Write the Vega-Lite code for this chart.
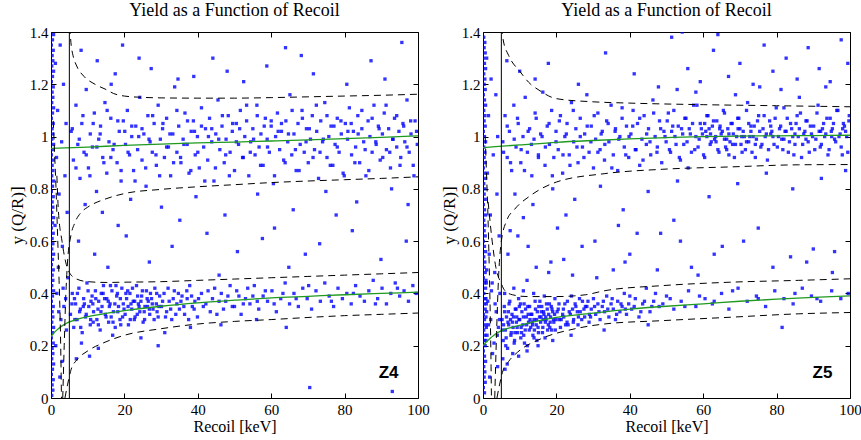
{
"$schema":"https://vega.github.io/schema/vega-lite/v6.json",
"padding":{"left":7,"top":1,"right":2,"bottom":2},
"background":"white",
"config":{"font":"'Liberation Serif', 'Times New Roman', serif","view":{"stroke":"black","strokeWidth":1}},
"spacing":9,
"datasets":{
"z4":[
{"x":0.2,"y":0.01},{"x":0.5,"y":0.03},{"x":0.3,"y":0.05},{"x":0.6,"y":0.07},{"x":0.1,"y":0.09},{"x":0.4,"y":0.11},{"x":0.7,"y":0.13},{"x":0.2,"y":0.15},{"x":0.5,"y":0.17},{"x":0.3,"y":0.19},{"x":0.6,"y":0.21},{"x":0.1,"y":0.23},{"x":0.4,"y":0.25},{"x":0.7,"y":0.27},{"x":0.2,"y":0.29},{"x":0.5,"y":0.31},{"x":0.3,"y":0.33},{"x":0.6,"y":0.35},{"x":0.1,"y":0.37},{"x":0.4,"y":0.39},{"x":0.7,"y":0.41},{"x":0.2,"y":0.43},{"x":0.5,"y":0.45},{"x":0.3,"y":0.47},{"x":0.6,"y":0.49},{"x":0.1,"y":0.51},{"x":0.4,"y":0.53},{"x":0.7,"y":0.55},{"x":0.2,"y":0.57},{"x":0.5,"y":0.59},{"x":0.3,"y":0.61},{"x":0.6,"y":0.63},{"x":0.1,"y":0.65},{"x":0.4,"y":0.67},{"x":0.7,"y":0.69},{"x":0.2,"y":0.71},{"x":0.5,"y":0.73},{"x":0.3,"y":0.75},{"x":0.6,"y":0.77},{"x":0.1,"y":0.79},{"x":0.4,"y":0.81},{"x":0.7,"y":0.83},{"x":0.2,"y":0.85},{"x":0.5,"y":0.87},{"x":0.3,"y":0.89},{"x":0.6,"y":0.91},{"x":0.1,"y":0.93},{"x":0.4,"y":0.95},{"x":0.7,"y":0.97},{"x":0.2,"y":0.99},{"x":0.5,"y":1.01},{"x":0.3,"y":1.03},{"x":0.6,"y":1.05},{"x":0.1,"y":1.07},{"x":0.4,"y":1.09},{"x":0.7,"y":1.11},{"x":0.2,"y":1.13},{"x":0.5,"y":1.15},{"x":0.3,"y":1.17},{"x":0.6,"y":1.19},{"x":0.1,"y":1.21},{"x":0.4,"y":1.23},{"x":0.7,"y":1.25},{"x":0.2,"y":1.27},{"x":0.5,"y":1.29},{"x":0.3,"y":1.31},{"x":0.6,"y":1.33},{"x":0.1,"y":1.35},{"x":0.4,"y":1.37},{"x":0.7,"y":1.39},
{"x":1.2,"y":1.28},{"x":2.5,"y":1.35},{"x":3.4,"y":1.2},{"x":1.8,"y":1.1},{"x":4.1,"y":1.05},{"x":2.9,"y":0.98},{"x":1.5,"y":0.92},{"x":3.8,"y":0.85},{"x":2.2,"y":0.78},{"x":4.4,"y":0.71},{"x":1.1,"y":0.66},{"x":3.1,"y":0.58},{"x":2.0,"y":0.5},{"x":4.6,"y":0.46},{"x":1.6,"y":0.4},{"x":3.5,"y":0.35},{"x":2.7,"y":0.3},{"x":4.2,"y":0.26},{"x":1.3,"y":0.2},{"x":3.0,"y":0.14},{"x":2.4,"y":0.08},{"x":4.0,"y":0.38},{"x":3.3,"y":0.42},{"x":2.1,"y":0.33},
{"x":5.5,"y":1.02},{"x":6.1,"y":0.91},{"x":6.8,"y":1.12},{"x":7.3,"y":0.97},{"x":7.9,"y":0.84},{"x":8.4,"y":1.05},{"x":9.0,"y":0.94},{"x":9.6,"y":1.18},{"x":10.2,"y":0.88},{"x":10.7,"y":1.01},{"x":11.3,"y":0.96},{"x":11.8,"y":1.09},{"x":12.4,"y":0.79},{"x":13.0,"y":0.99},{"x":13.5,"y":1.04},{"x":14.1,"y":0.92},{"x":14.7,"y":1.13},{"x":15.2,"y":0.86},{"x":15.8,"y":0.98},{"x":16.3,"y":1.07},{"x":16.9,"y":0.95},{"x":17.5,"y":1.24},{"x":18.0,"y":0.9},{"x":18.6,"y":1.02},{"x":19.1,"y":0.83},{"x":19.7,"y":1.06},{"x":20.3,"y":0.97},{"x":20.8,"y":1.1},{"x":21.4,"y":0.93},{"x":22.0,"y":1.0},{"x":22.5,"y":0.87},{"x":23.1,"y":1.04},{"x":23.6,"y":0.95},{"x":24.2,"y":1.15},{"x":24.8,"y":0.91},{"x":25.3,"y":1.01},{"x":25.9,"y":0.81},{"x":26.4,"y":1.08},{"x":27.0,"y":0.98},{"x":27.6,"y":0.94},{"x":28.1,"y":1.05},{"x":28.7,"y":0.89},{"x":29.2,"y":1.12},{"x":29.8,"y":0.99},{"x":30.4,"y":1.03},{"x":30.9,"y":0.92},{"x":31.5,"y":1.07},{"x":32.0,"y":0.96},{"x":32.6,"y":0.85},{"x":33.2,"y":1.01},{"x":33.7,"y":1.19},{"x":34.3,"y":0.94},{"x":34.8,"y":1.04},{"x":35.4,"y":0.9},{"x":36.0,"y":0.99},{"x":36.5,"y":1.09},{"x":37.1,"y":0.97},{"x":37.6,"y":0.86},{"x":38.2,"y":1.02},{"x":38.8,"y":1.06},{"x":39.3,"y":0.93},{"x":39.9,"y":1.0},{"x":40.4,"y":0.88},{"x":41.0,"y":1.11},{"x":41.6,"y":0.96},{"x":42.1,"y":1.03},{"x":42.7,"y":0.91},{"x":43.2,"y":1.07},{"x":43.8,"y":0.98},{"x":44.4,"y":0.83},{"x":44.9,"y":1.01},{"x":45.5,"y":1.14},{"x":46.0,"y":0.95},{"x":46.6,"y":1.04},{"x":47.2,"y":0.9},{"x":47.7,"y":0.99},{"x":48.3,"y":1.08},{"x":48.8,"y":0.94},{"x":49.4,"y":1.02},{"x":50.0,"y":0.87},{"x":50.5,"y":1.05},{"x":51.1,"y":0.97},{"x":51.6,"y":1.1},{"x":52.2,"y":0.92},{"x":52.8,"y":1.0},{"x":53.3,"y":1.06},{"x":53.9,"y":0.85},{"x":54.4,"y":0.98},{"x":55.0,"y":1.03},{"x":55.6,"y":0.93},{"x":56.1,"y":1.12},{"x":56.7,"y":0.96},{"x":57.2,"y":1.01},{"x":57.8,"y":0.89},{"x":58.4,"y":1.07},{"x":58.9,"y":0.99},{"x":59.5,"y":0.94},{"x":60.0,"y":1.04},{"x":60.6,"y":0.82},{"x":61.2,"y":1.0},{"x":61.7,"y":1.09},{"x":62.3,"y":0.95},{"x":62.8,"y":1.02},{"x":63.4,"y":0.91},{"x":64.0,"y":1.06},{"x":64.5,"y":0.98},{"x":65.1,"y":1.16},{"x":65.6,"y":0.93},{"x":66.2,"y":1.01},{"x":66.8,"y":0.87},{"x":67.3,"y":1.05},{"x":67.9,"y":0.97},{"x":68.4,"y":1.1},{"x":69.0,"y":0.94},{"x":69.6,"y":1.03},{"x":70.1,"y":0.9},{"x":70.7,"y":0.99},{"x":71.2,"y":1.08},{"x":71.8,"y":0.95},{"x":72.4,"y":1.02},{"x":72.9,"y":0.84},{"x":73.5,"y":1.06},{"x":74.0,"y":0.98},{"x":74.6,"y":1.13},{"x":75.2,"y":0.92},{"x":75.7,"y":1.0},{"x":76.3,"y":1.04},{"x":76.8,"y":0.89},{"x":77.4,"y":0.97},{"x":78.0,"y":1.07},{"x":78.5,"y":0.94},{"x":79.1,"y":1.01},{"x":79.6,"y":0.86},{"x":80.2,"y":1.05},{"x":80.8,"y":0.99},{"x":81.3,"y":1.11},{"x":81.9,"y":0.93},{"x":82.4,"y":1.02},{"x":83.0,"y":0.96},{"x":83.6,"y":1.08},{"x":84.1,"y":0.9},{"x":84.7,"y":1.03},{"x":85.2,"y":0.98},{"x":85.8,"y":0.85},{"x":86.4,"y":1.06},{"x":86.9,"y":1.0},{"x":87.5,"y":0.94},{"x":88.0,"y":1.12},{"x":88.6,"y":0.97},{"x":89.2,"y":1.04},{"x":89.7,"y":0.91},{"x":90.3,"y":1.01},{"x":90.8,"y":1.09},{"x":91.4,"y":0.95},{"x":92.0,"y":1.03},{"x":92.5,"y":0.88},{"x":93.1,"y":0.99},{"x":93.6,"y":1.07},{"x":94.2,"y":0.96},{"x":94.8,"y":1.02},{"x":95.3,"y":0.92},{"x":95.9,"y":1.05},{"x":96.4,"y":0.98},{"x":97.0,"y":1.14},{"x":97.6,"y":0.94},{"x":98.1,"y":1.01},{"x":98.7,"y":0.89},{"x":99.2,"y":1.06},{"x":99.8,"y":0.97},
{"x":5.8,"y":1.03},{"x":6.8,"y":0.88},{"x":7.7,"y":0.99},{"x":8.7,"y":1.08},{"x":9.6,"y":0.93},{"x":10.6,"y":0.85},{"x":11.5,"y":1.05},{"x":12.5,"y":0.96},{"x":13.4,"y":1.01},{"x":14.4,"y":0.9},{"x":15.3,"y":1.1},{"x":16.3,"y":0.92},{"x":17.2,"y":0.97},{"x":18.2,"y":1.06},{"x":19.1,"y":0.87},{"x":20.1,"y":1.02},{"x":21.0,"y":0.94},{"x":22.0,"y":1.04},{"x":22.9,"y":0.83},{"x":23.9,"y":1.0},{"x":24.8,"y":1.03},{"x":25.8,"y":0.88},{"x":26.7,"y":0.99},{"x":27.7,"y":1.08},{"x":28.6,"y":0.93},{"x":29.6,"y":0.85},{"x":30.5,"y":1.05},{"x":31.5,"y":0.96},{"x":32.4,"y":1.01},{"x":33.4,"y":0.9},{"x":34.3,"y":1.1},{"x":35.3,"y":0.92},{"x":36.2,"y":0.97},{"x":37.2,"y":1.06},{"x":38.1,"y":0.87},{"x":39.1,"y":1.02},{"x":40.0,"y":0.94},{"x":41.0,"y":1.04},{"x":41.9,"y":0.83},{"x":42.9,"y":1.0},{"x":43.8,"y":1.03},{"x":44.8,"y":0.88},{"x":45.7,"y":0.99},{"x":46.7,"y":1.08},{"x":47.6,"y":0.93},{"x":48.6,"y":0.85},{"x":49.5,"y":1.05},{"x":50.5,"y":0.98},{"x":51.4,"y":1.03},{"x":52.4,"y":0.92},{"x":53.3,"y":1.12},{"x":54.3,"y":0.94},{"x":55.2,"y":0.99},{"x":56.2,"y":1.08},{"x":57.1,"y":0.89},{"x":58.1,"y":1.04},{"x":59.0,"y":0.96},{"x":60.0,"y":1.06},{"x":60.9,"y":0.85},{"x":61.9,"y":1.02},{"x":62.8,"y":1.05},{"x":63.8,"y":0.9},{"x":64.7,"y":1.01},{"x":65.7,"y":1.1},{"x":66.6,"y":0.95},{"x":67.6,"y":0.87},{"x":68.5,"y":1.07},{"x":69.5,"y":0.98},{"x":70.4,"y":1.03},{"x":71.4,"y":0.92},{"x":72.3,"y":1.12},{"x":73.3,"y":0.94},{"x":74.2,"y":0.99},{"x":75.2,"y":1.08},{"x":76.1,"y":0.89},{"x":77.1,"y":1.04},{"x":78.0,"y":0.96},{"x":79.0,"y":1.06},{"x":79.9,"y":0.85},{"x":80.9,"y":1.02},{"x":81.8,"y":1.05},{"x":82.8,"y":0.9},{"x":83.7,"y":1.01},{"x":84.7,"y":1.1},{"x":85.6,"y":0.95},{"x":86.6,"y":0.87},{"x":87.5,"y":1.07},{"x":88.5,"y":0.98},{"x":89.4,"y":1.03},{"x":90.4,"y":0.92},{"x":91.3,"y":1.12},{"x":92.3,"y":0.94},{"x":93.2,"y":0.99},{"x":94.2,"y":1.08},{"x":95.1,"y":0.89},{"x":96.1,"y":1.04},{"x":97.0,"y":0.96},{"x":98.0,"y":1.06},{"x":98.9,"y":0.85},{"x":99.6,"y":1.02},
{"x":8.2,"y":1.33},{"x":12.6,"y":1.29},{"x":19.5,"y":1.35},{"x":27.3,"y":1.26},{"x":34.6,"y":1.22},{"x":44.1,"y":1.3},{"x":52.5,"y":1.21},{"x":58.8,"y":1.27},{"x":63.9,"y":1.34},{"x":71.5,"y":1.24},{"x":80.6,"y":1.2},{"x":87.2,"y":1.29},{"x":95.6,"y":1.36},{"x":16.4,"y":1.2},{"x":38.9,"y":1.23},{"x":68.2,"y":1.31},{"x":24.0,"y":1.3},{"x":48.0,"y":1.25},{"x":91.0,"y":1.22},
{"x":9.3,"y":0.74},{"x":14.0,"y":0.71},{"x":21.7,"y":0.76},{"x":30.1,"y":0.73},{"x":39.5,"y":0.77},{"x":47.4,"y":0.7},{"x":56.3,"y":0.78},{"x":66.0,"y":0.72},{"x":74.9,"y":0.79},{"x":83.3,"y":0.75},{"x":92.8,"y":0.8},{"x":18.3,"y":0.66},{"x":35.1,"y":0.68},{"x":60.9,"y":0.65},{"x":77.7,"y":0.7},{"x":97.3,"y":0.74},
{"x":7.5,"y":0.6},{"x":11.9,"y":0.55},{"x":20.5,"y":0.62},{"x":26.8,"y":0.52},{"x":33.0,"y":0.58},{"x":42.5,"y":0.63},{"x":50.8,"y":0.56},{"x":57.6,"y":0.61},{"x":64.8,"y":0.5},{"x":73.2,"y":0.59},{"x":82.1,"y":0.64},{"x":89.9,"y":0.53},{"x":96.8,"y":0.6},{"x":45.8,"y":0.47},{"x":69.3,"y":0.55},{"x":15.5,"y":0.5},
{"x":5.3,"y":0.32},{"x":5.8,"y":0.4},{"x":6.2,"y":0.27},{"x":6.7,"y":0.36},{"x":7.1,"y":0.3},{"x":7.6,"y":0.42},{"x":8.0,"y":0.34},{"x":8.5,"y":0.25},{"x":8.9,"y":0.38},{"x":9.4,"y":0.31},{"x":9.8,"y":0.44},{"x":10.3,"y":0.35},{"x":10.7,"y":0.28},{"x":11.2,"y":0.39},{"x":11.6,"y":0.33},{"x":12.1,"y":0.41},{"x":12.5,"y":0.3},{"x":13.0,"y":0.37},{"x":13.4,"y":0.26},{"x":13.9,"y":0.35},{"x":14.3,"y":0.43},{"x":14.8,"y":0.32},{"x":15.2,"y":0.38},{"x":15.7,"y":0.29},{"x":16.1,"y":0.36},{"x":16.6,"y":0.41},{"x":17.0,"y":0.33},{"x":17.5,"y":0.27},{"x":17.9,"y":0.39},{"x":18.4,"y":0.35},{"x":18.8,"y":0.3},{"x":19.3,"y":0.42},{"x":19.7,"y":0.36},{"x":20.2,"y":0.32},{"x":20.6,"y":0.38},{"x":21.1,"y":0.28},{"x":21.5,"y":0.4},{"x":22.0,"y":0.34},{"x":22.4,"y":0.37},{"x":22.9,"y":0.31},{"x":23.3,"y":0.43},{"x":23.8,"y":0.36},{"x":24.2,"y":0.33},{"x":24.7,"y":0.39},{"x":25.1,"y":0.29},{"x":25.6,"y":0.35},{"x":26.0,"y":0.41},{"x":26.5,"y":0.37},{"x":26.9,"y":0.32},{"x":27.4,"y":0.38},{"x":27.8,"y":0.34},{"x":28.3,"y":0.42},{"x":28.7,"y":0.36},{"x":29.2,"y":0.31},{"x":29.6,"y":0.39},{"x":30.1,"y":0.35},{"x":30.8,"y":0.4},{"x":31.5,"y":0.33},{"x":32.2,"y":0.37},{"x":32.9,"y":0.3},{"x":33.6,"y":0.41},{"x":34.3,"y":0.36},{"x":35.0,"y":0.34},{"x":35.7,"y":0.39},{"x":36.4,"y":0.32},{"x":37.1,"y":0.38},{"x":37.8,"y":0.43},{"x":38.5,"y":0.35},{"x":39.2,"y":0.37},{"x":39.9,"y":0.31},{"x":41.0,"y":0.4},{"x":42.2,"y":0.36},{"x":43.4,"y":0.33},{"x":44.6,"y":0.42},{"x":45.8,"y":0.37},{"x":47.0,"y":0.34},{"x":48.2,"y":0.39},{"x":49.4,"y":0.35},{"x":50.6,"y":0.41},{"x":51.8,"y":0.32},{"x":53.0,"y":0.38},{"x":54.2,"y":0.36},{"x":55.4,"y":0.43},{"x":56.6,"y":0.34},{"x":57.8,"y":0.39},{"x":59.0,"y":0.37},{"x":60.2,"y":0.41},{"x":61.4,"y":0.33},{"x":62.6,"y":0.38},{"x":63.8,"y":0.44},{"x":65.0,"y":0.36},{"x":66.2,"y":0.4},{"x":67.4,"y":0.35},{"x":68.6,"y":0.42},{"x":69.8,"y":0.38},{"x":71.0,"y":0.34},{"x":72.2,"y":0.41},{"x":73.4,"y":0.37},{"x":74.6,"y":0.44},{"x":75.8,"y":0.39},{"x":77.0,"y":0.35},{"x":78.2,"y":0.42},{"x":79.4,"y":0.38},{"x":80.6,"y":0.4},{"x":81.8,"y":0.36},{"x":83.0,"y":0.43},{"x":84.2,"y":0.39},{"x":85.4,"y":0.37},{"x":86.6,"y":0.41},{"x":87.8,"y":0.45},{"x":89.0,"y":0.38},{"x":90.2,"y":0.42},{"x":91.4,"y":0.36},{"x":92.6,"y":0.4},{"x":93.8,"y":0.44},{"x":95.0,"y":0.39},{"x":96.2,"y":0.41},{"x":97.4,"y":0.37},{"x":98.6,"y":0.43},{"x":99.5,"y":0.4},
{"x":10.9,"y":0.37},{"x":12.8,"y":0.34},{"x":14.6,"y":0.38},{"x":16.4,"y":0.31},{"x":18.1,"y":0.4},{"x":19.9,"y":0.34},{"x":21.8,"y":0.36},{"x":23.6,"y":0.39},{"x":25.4,"y":0.33},{"x":27.1,"y":0.4},{"x":28.9,"y":0.33},{"x":11.5,"y":0.29},{"x":13.7,"y":0.4},{"x":15.9,"y":0.35},{"x":17.7,"y":0.43},{"x":19.0,"y":0.28},{"x":20.9,"y":0.41},{"x":22.7,"y":0.3},{"x":24.5,"y":0.37},{"x":26.3,"y":0.35},{"x":9.1,"y":0.36},{"x":7.8,"y":0.33},{"x":6.4,"y":0.38},
{"x":5.7,"y":0.36},{"x":6.5,"y":0.3},{"x":7.2,"y":0.4},{"x":8.1,"y":0.27},{"x":8.8,"y":0.35},{"x":9.6,"y":0.32},{"x":10.1,"y":0.41},{"x":10.8,"y":0.3},{"x":11.4,"y":0.36},{"x":12.2,"y":0.38},{"x":12.9,"y":0.28},{"x":13.6,"y":0.33},{"x":14.2,"y":0.4},{"x":15.0,"y":0.31},{"x":15.6,"y":0.37},{"x":16.2,"y":0.43},{"x":16.9,"y":0.29},{"x":17.4,"y":0.36},{"x":18.2,"y":0.33},{"x":18.9,"y":0.38},{"x":19.5,"y":0.31},{"x":20.4,"y":0.4},{"x":21.0,"y":0.35},{"x":21.6,"y":0.3},{"x":22.2,"y":0.42},{"x":22.8,"y":0.37},{"x":23.5,"y":0.32},{"x":24.0,"y":0.35},{"x":24.9,"y":0.41},{"x":25.5,"y":0.3},{"x":26.2,"y":0.38},{"x":26.8,"y":0.34},{"x":27.6,"y":0.36},{"x":28.1,"y":0.3},{"x":28.8,"y":0.4},{"x":29.4,"y":0.35},{"x":30.4,"y":0.37},{"x":31.2,"y":0.31},{"x":31.9,"y":0.42},{"x":32.6,"y":0.34},{"x":33.3,"y":0.38},{"x":34.0,"y":0.32},{"x":34.7,"y":0.4},{"x":35.4,"y":0.37},{"x":36.2,"y":0.35},{"x":37.0,"y":0.41},{"x":37.5,"y":0.3},{"x":38.3,"y":0.39},{"x":39.0,"y":0.34},{"x":40.2,"y":0.38},{"x":41.5,"y":0.35},{"x":42.8,"y":0.41},{"x":44.0,"y":0.38},{"x":45.2,"y":0.32},{"x":46.4,"y":0.4},{"x":47.6,"y":0.37},{"x":48.8,"y":0.43},{"x":50.0,"y":0.35},{"x":51.2,"y":0.39},{"x":52.4,"y":0.36},{"x":53.6,"y":0.42},{"x":55.0,"y":0.39},{"x":56.2,"y":0.37},{"x":58.4,"y":0.41},{"x":60.8,"y":0.36},{"x":63.2,"y":0.4},{"x":66.8,"y":0.38},{"x":70.2,"y":0.43},{"x":76.4,"y":0.37},{"x":82.4,"y":0.4},{"x":88.4,"y":0.36},{"x":94.4,"y":0.42},
{"x":8.3,"y":0.21},{"x":12.9,"y":0.19},{"x":16.8,"y":0.24},{"x":24.5,"y":0.23},{"x":31.0,"y":0.25},{"x":38.0,"y":0.27},{"x":46.3,"y":0.28},{"x":70.5,"y":0.04},{"x":93.0,"y":0.025},{"x":64.1,"y":0.27},{"x":6.9,"y":0.15},{"x":10.5,"y":0.16},{"x":56.0,"y":0.3},{"x":29.2,"y":0.2}
],
"z5":[
{"x":0.4,"y":0.02},{"x":0.1,"y":0.04},{"x":0.6,"y":0.06},{"x":0.3,"y":0.08},{"x":0.5,"y":0.1},{"x":0.2,"y":0.12},{"x":0.7,"y":0.14},{"x":0.4,"y":0.16},{"x":0.1,"y":0.18},{"x":0.6,"y":0.2},{"x":0.3,"y":0.22},{"x":0.5,"y":0.24},{"x":0.2,"y":0.26},{"x":0.7,"y":0.28},{"x":0.4,"y":0.3},{"x":0.1,"y":0.32},{"x":0.6,"y":0.34},{"x":0.3,"y":0.36},{"x":0.5,"y":0.38},{"x":0.2,"y":0.4},{"x":0.7,"y":0.42},{"x":0.4,"y":0.44},{"x":0.1,"y":0.46},{"x":0.6,"y":0.48},{"x":0.3,"y":0.5},{"x":0.5,"y":0.52},{"x":0.2,"y":0.54},{"x":0.7,"y":0.56},{"x":0.4,"y":0.58},{"x":0.1,"y":0.6},{"x":0.6,"y":0.62},{"x":0.3,"y":0.64},{"x":0.5,"y":0.66},{"x":0.2,"y":0.68},{"x":0.7,"y":0.7},{"x":0.4,"y":0.72},{"x":0.1,"y":0.74},{"x":0.6,"y":0.76},{"x":0.3,"y":0.78},{"x":0.5,"y":0.8},{"x":0.2,"y":0.82},{"x":0.7,"y":0.84},{"x":0.4,"y":0.86},{"x":0.1,"y":0.88},{"x":0.6,"y":0.9},{"x":0.3,"y":0.92},{"x":0.5,"y":0.94},{"x":0.2,"y":0.96},{"x":0.7,"y":0.98},{"x":0.4,"y":1.0},{"x":0.1,"y":1.02},{"x":0.6,"y":1.04},{"x":0.3,"y":1.06},{"x":0.5,"y":1.08},{"x":0.2,"y":1.1},{"x":0.7,"y":1.12},{"x":0.4,"y":1.14},{"x":0.1,"y":1.16},{"x":0.6,"y":1.18},{"x":0.3,"y":1.2},{"x":0.5,"y":1.22},{"x":0.2,"y":1.24},{"x":0.7,"y":1.26},{"x":0.4,"y":1.28},{"x":0.1,"y":1.3},{"x":0.6,"y":1.32},{"x":0.3,"y":1.34},{"x":0.5,"y":1.36},{"x":0.2,"y":1.38},
{"x":0.8,"y":0.22},{"x":0.9,"y":0.27},{"x":1.0,"y":0.33},{"x":0.8,"y":0.38},{"x":0.9,"y":0.44},{"x":1.0,"y":0.49},{"x":0.8,"y":0.31},{"x":0.9,"y":0.36},
{"x":1.0,"y":1.3},{"x":2.2,"y":1.22},{"x":3.5,"y":1.16},{"x":1.5,"y":1.08},{"x":4.0,"y":1.0},{"x":2.8,"y":0.93},{"x":1.2,"y":0.86},{"x":3.8,"y":0.78},{"x":2.0,"y":0.7},{"x":4.4,"y":0.62},{"x":1.7,"y":0.55},{"x":3.2,"y":0.48},{"x":2.5,"y":0.44},{"x":4.6,"y":0.4},{"x":1.3,"y":0.37},{"x":3.6,"y":0.33},{"x":2.1,"y":0.3},{"x":4.2,"y":0.27},{"x":1.1,"y":0.24},{"x":3.0,"y":0.21},{"x":2.6,"y":0.17},{"x":4.0,"y":0.12},{"x":1.8,"y":0.08},{"x":3.3,"y":0.36},{"x":2.3,"y":0.41},{"x":4.5,"y":0.3},{"x":1.5,"y":0.28},{"x":3.9,"y":0.24},{"x":0.8,"y":0.45},
{"x":5.4,"y":0.98},{"x":6.0,"y":1.08},{"x":6.6,"y":0.92},{"x":7.2,"y":1.02},{"x":7.8,"y":0.87},{"x":8.4,"y":1.12},{"x":9.0,"y":0.96},{"x":9.6,"y":1.05},{"x":10.3,"y":0.9},{"x":10.9,"y":1.0},{"x":11.5,"y":1.15},{"x":12.1,"y":0.94},{"x":12.7,"y":1.03},{"x":13.3,"y":0.85},{"x":13.9,"y":0.99},{"x":14.5,"y":1.07},{"x":15.1,"y":0.93},{"x":15.7,"y":1.01},{"x":16.3,"y":1.17},{"x":16.9,"y":0.89},{"x":17.5,"y":1.04},{"x":18.1,"y":0.97},{"x":18.7,"y":1.1},{"x":19.3,"y":0.92},{"x":19.9,"y":1.02},{"x":20.5,"y":0.95},{"x":21.1,"y":1.08},{"x":21.7,"y":0.86},{"x":22.3,"y":1.0},{"x":22.9,"y":1.05},{"x":23.5,"y":0.93},{"x":24.1,"y":1.13},{"x":24.7,"y":0.98},{"x":25.3,"y":1.03},{"x":25.9,"y":0.9},{"x":26.5,"y":1.07},{"x":27.1,"y":0.96},{"x":27.7,"y":1.01},{"x":28.3,"y":1.16},{"x":28.9,"y":0.94},{"x":29.5,"y":1.04},{"x":30.1,"y":0.88},{"x":30.7,"y":0.99},{"x":31.3,"y":1.09},{"x":31.9,"y":0.95},{"x":32.5,"y":1.02},{"x":33.1,"y":0.91},{"x":33.7,"y":1.06},{"x":34.3,"y":0.98},{"x":34.9,"y":1.12},{"x":35.5,"y":0.93},{"x":36.1,"y":1.03},{"x":36.7,"y":0.87},{"x":37.3,"y":1.0},{"x":37.9,"y":1.07},{"x":38.5,"y":0.96},{"x":39.1,"y":1.04},{"x":39.7,"y":0.92},{"x":40.3,"y":1.01},{"x":40.9,"y":1.1},{"x":41.5,"y":0.95},{"x":42.1,"y":1.05},{"x":42.7,"y":0.89},{"x":43.3,"y":0.99},{"x":43.9,"y":1.08},{"x":44.5,"y":0.97},{"x":45.1,"y":1.03},{"x":45.7,"y":0.93},{"x":46.3,"y":1.14},{"x":46.9,"y":1.0},{"x":47.5,"y":0.96},{"x":48.1,"y":1.06},{"x":48.7,"y":0.9},{"x":49.3,"y":1.02},{"x":49.9,"y":0.98},{"x":50.5,"y":1.09},{"x":51.1,"y":0.94},{"x":51.7,"y":1.04},{"x":52.3,"y":1.0},{"x":52.9,"y":1.18},{"x":53.5,"y":0.92},{"x":54.1,"y":1.03},{"x":54.7,"y":0.97},{"x":55.3,"y":1.07},{"x":55.9,"y":0.88},{"x":56.5,"y":1.01},{"x":57.1,"y":1.05},{"x":57.7,"y":0.95},{"x":58.3,"y":1.12},{"x":58.9,"y":0.99},{"x":59.5,"y":1.03},{"x":60.1,"y":0.93},{"x":60.7,"y":1.02},{"x":61.3,"y":1.08},{"x":61.9,"y":0.97},{"x":62.5,"y":1.04},{"x":63.1,"y":0.99},{"x":63.7,"y":1.06},{"x":64.3,"y":0.94},{"x":64.9,"y":1.01},{"x":65.5,"y":1.1},{"x":66.1,"y":0.96},{"x":66.7,"y":1.03},{"x":67.3,"y":0.98},{"x":67.9,"y":1.05},{"x":68.5,"y":0.92},{"x":69.1,"y":1.0},{"x":69.7,"y":1.07},{"x":70.3,"y":0.97},{"x":70.9,"y":1.02},{"x":71.5,"y":0.95},{"x":72.1,"y":1.13},{"x":72.7,"y":1.0},{"x":73.3,"y":0.94},{"x":73.9,"y":1.04},{"x":74.5,"y":0.99},{"x":75.1,"y":1.08},{"x":75.7,"y":0.96},{"x":76.3,"y":1.03},{"x":76.9,"y":1.0},{"x":77.5,"y":0.91},{"x":78.1,"y":1.06},{"x":78.7,"y":1.02},{"x":79.3,"y":0.97},{"x":79.9,"y":1.11},{"x":80.5,"y":1.0},{"x":81.1,"y":1.04},{"x":81.7,"y":0.95},{"x":82.3,"y":1.02},{"x":82.9,"y":1.07},{"x":83.5,"y":0.98},{"x":84.1,"y":1.03},{"x":84.7,"y":0.93},{"x":85.3,"y":1.05},{"x":85.9,"y":1.0},{"x":86.5,"y":1.09},{"x":87.1,"y":0.97},{"x":87.7,"y":1.02},{"x":88.3,"y":1.06},{"x":88.9,"y":0.94},{"x":89.5,"y":1.01},{"x":90.1,"y":1.04},{"x":90.7,"y":0.99},{"x":91.3,"y":1.12},{"x":91.9,"y":0.96},{"x":92.5,"y":1.03},{"x":93.1,"y":1.0},{"x":93.7,"y":1.07},{"x":94.3,"y":0.95},{"x":94.9,"y":1.02},{"x":95.5,"y":1.05},{"x":96.1,"y":0.98},{"x":96.7,"y":1.1},{"x":97.3,"y":1.01},{"x":97.9,"y":0.93},{"x":98.5,"y":1.04},{"x":99.1,"y":1.0},{"x":99.7,"y":1.06},
{"x":5.6,"y":0.94},{"x":6.6,"y":1.04},{"x":7.5,"y":0.9},{"x":8.5,"y":0.99},{"x":9.4,"y":1.07},{"x":10.4,"y":0.95},{"x":11.3,"y":0.87},{"x":12.3,"y":1.02},{"x":13.2,"y":0.97},{"x":14.2,"y":1.09},{"x":15.1,"y":0.92},{"x":16.1,"y":1.0},{"x":17.0,"y":0.96},{"x":18.0,"y":1.05},{"x":18.9,"y":0.85},{"x":19.9,"y":0.98},{"x":20.8,"y":1.06},{"x":21.8,"y":0.93},{"x":22.7,"y":1.01},{"x":23.7,"y":0.89},{"x":24.6,"y":1.1},{"x":25.6,"y":0.96},{"x":26.5,"y":1.0},{"x":27.5,"y":0.92},{"x":28.4,"y":1.04},{"x":29.4,"y":0.98},{"x":30.3,"y":1.08},{"x":31.3,"y":0.94},{"x":32.2,"y":1.01},{"x":33.2,"y":0.97},{"x":34.1,"y":1.05},{"x":35.1,"y":0.88},{"x":36.0,"y":1.02},{"x":37.0,"y":0.99},{"x":37.9,"y":1.11},{"x":38.9,"y":0.93},{"x":39.8,"y":1.0},{"x":40.8,"y":1.04},{"x":41.7,"y":0.95},{"x":42.7,"y":1.07},{"x":43.6,"y":0.91},{"x":44.6,"y":1.01},{"x":45.5,"y":0.98},{"x":46.5,"y":1.09},{"x":47.4,"y":0.94},{"x":48.4,"y":1.03},
{"x":49.6,"y":1.0},{"x":50.2,"y":1.06},{"x":50.8,"y":0.95},{"x":51.4,"y":1.02},{"x":52.0,"y":1.1},{"x":52.6,"y":0.97},{"x":53.2,"y":1.04},{"x":53.8,"y":0.91},{"x":54.4,"y":1.01},{"x":55.0,"y":1.07},{"x":55.6,"y":0.98},{"x":56.2,"y":1.03},{"x":56.8,"y":0.94},{"x":57.4,"y":1.12},{"x":58.0,"y":1.0},{"x":58.6,"y":0.96},{"x":59.2,"y":1.05},{"x":59.8,"y":1.01},{"x":60.4,"y":0.92},{"x":61.0,"y":1.08},{"x":61.6,"y":1.03},{"x":62.2,"y":0.98},{"x":62.8,"y":1.06},{"x":63.4,"y":1.0},{"x":64.0,"y":0.95},{"x":64.6,"y":1.04},{"x":65.2,"y":1.02},{"x":65.8,"y":1.09},{"x":66.4,"y":0.99},{"x":67.0,"y":0.93},{"x":67.6,"y":1.05},{"x":68.2,"y":1.01},{"x":68.8,"y":0.97},{"x":69.4,"y":1.07},{"x":70.0,"y":1.03},{"x":70.6,"y":0.94},{"x":71.2,"y":1.0},{"x":71.8,"y":1.1},{"x":72.4,"y":0.98},{"x":73.0,"y":1.04},{"x":73.6,"y":1.0},{"x":74.2,"y":0.92},{"x":74.8,"y":1.06},{"x":75.4,"y":1.02},{"x":76.0,"y":0.97},{"x":76.6,"y":1.08},{"x":77.2,"y":1.01},{"x":77.8,"y":0.95},{"x":78.4,"y":1.04},{"x":79.0,"y":1.0},{"x":79.6,"y":1.07},{"x":80.2,"y":0.96},{"x":80.8,"y":1.03},{"x":81.4,"y":0.99},{"x":82.0,"y":1.11},{"x":82.6,"y":1.02},{"x":83.2,"y":0.94},{"x":83.8,"y":1.05},{"x":84.4,"y":1.0},{"x":85.0,"y":0.97},{"x":85.6,"y":1.08},{"x":86.2,"y":1.03},{"x":86.8,"y":0.92},{"x":87.4,"y":1.01},{"x":88.0,"y":1.06},{"x":88.6,"y":0.98},{"x":89.2,"y":1.04},{"x":89.8,"y":1.0},{"x":90.4,"y":0.95},{"x":91.0,"y":1.09},{"x":91.6,"y":1.02},{"x":92.2,"y":0.97},{"x":92.8,"y":1.05},{"x":93.4,"y":1.01},{"x":94.0,"y":0.93},{"x":94.6,"y":1.07},{"x":95.2,"y":1.03},{"x":95.8,"y":0.99},{"x":96.4,"y":1.1},{"x":97.0,"y":1.0},{"x":97.6,"y":0.96},{"x":98.2,"y":1.05},{"x":98.8,"y":1.02},{"x":99.4,"y":0.94},{"x":99.8,"y":1.08},
{"x":61.0,"y":1.0},{"x":62.0,"y":1.01},{"x":63.5,"y":0.98},{"x":64.5,"y":1.03},{"x":65.8,"y":0.99},{"x":67.0,"y":1.01},{"x":68.0,"y":0.97},{"x":69.5,"y":1.03},{"x":70.5,"y":1.0},{"x":71.8,"y":0.98},{"x":73.0,"y":1.02},{"x":74.2,"y":0.97},{"x":60.4,"y":1.05},{"x":66.4,"y":0.95},{"x":72.4,"y":1.05},{"x":85.0,"y":1.01},{"x":88.0,"y":0.99},{"x":92.0,"y":1.02},{"x":95.0,"y":1.0},{"x":98.0,"y":1.03},{"x":82.0,"y":0.99},{"x":78.4,"y":1.01},
{"x":6.5,"y":1.29},{"x":10.0,"y":1.25},{"x":14.2,"y":1.22},{"x":17.8,"y":1.28},{"x":26.0,"y":1.2},{"x":33.4,"y":1.32},{"x":41.2,"y":1.24},{"x":47.8,"y":1.19},{"x":51.4,"y":1.38},{"x":55.8,"y":1.26},{"x":59.2,"y":1.21},{"x":62.8,"y":1.33},{"x":66.9,"y":1.23},{"x":70.0,"y":1.28},{"x":73.6,"y":1.2},{"x":76.6,"y":1.35},{"x":79.0,"y":1.25},{"x":82.6,"y":1.3},{"x":85.6,"y":1.22},{"x":88.6,"y":1.34},{"x":91.6,"y":1.26},{"x":94.6,"y":1.21},{"x":97.6,"y":1.37},{"x":99.4,"y":1.28},{"x":64.0,"y":1.39},{"x":54.3,"y":1.4},{"x":81.2,"y":1.18},{"x":93.4,"y":1.19},{"x":58.0,"y":1.17},{"x":68.8,"y":1.16},{"x":86.2,"y":1.15},{"x":75.4,"y":1.19},
{"x":8.7,"y":0.78},{"x":13.6,"y":0.74},{"x":19.0,"y":0.8},{"x":25.0,"y":0.76},{"x":32.0,"y":0.81},{"x":38.2,"y":0.72},{"x":45.0,"y":0.79},{"x":53.0,"y":0.83},{"x":61.6,"y":0.77},{"x":69.4,"y":0.82},{"x":77.2,"y":0.86},{"x":84.4,"y":0.8},{"x":92.2,"y":0.84},{"x":98.8,"y":0.87},{"x":11.0,"y":0.69},{"x":22.6,"y":0.7},{"x":36.9,"y":0.66},
{"x":7.4,"y":0.64},{"x":12.3,"y":0.58},{"x":18.5,"y":0.52},{"x":24.4,"y":0.47},{"x":30.5,"y":0.6},{"x":40.0,"y":0.55},{"x":48.4,"y":0.63},{"x":52.0,"y":0.68},{"x":56.8,"y":0.5},{"x":65.2,"y":0.58},{"x":75.0,"y":0.65},{"x":83.8,"y":0.54},{"x":88.2,"y":0.52},{"x":95.8,"y":0.56},{"x":20.3,"y":0.65},{"x":35.5,"y":0.49},
{"x":5.2,"y":0.3},{"x":5.5,"y":0.22},{"x":5.8,"y":0.35},{"x":6.1,"y":0.26},{"x":6.4,"y":0.31},{"x":6.7,"y":0.19},{"x":7.0,"y":0.28},{"x":7.3,"y":0.37},{"x":7.6,"y":0.24},{"x":7.9,"y":0.32},{"x":8.2,"y":0.27},{"x":8.5,"y":0.21},{"x":8.8,"y":0.34},{"x":9.1,"y":0.29},{"x":9.4,"y":0.25},{"x":9.7,"y":0.38},{"x":10.0,"y":0.3},{"x":10.3,"y":0.23},{"x":10.6,"y":0.33},{"x":10.9,"y":0.28},{"x":11.2,"y":0.36},{"x":11.5,"y":0.26},{"x":11.8,"y":0.31},{"x":12.1,"y":0.2},{"x":12.4,"y":0.29},{"x":12.7,"y":0.35},{"x":13.0,"y":0.27},{"x":13.3,"y":0.32},{"x":13.6,"y":0.24},{"x":13.9,"y":0.3},{"x":14.2,"y":0.37},{"x":14.5,"y":0.28},{"x":14.8,"y":0.33},{"x":15.1,"y":0.25},{"x":15.4,"y":0.31},{"x":15.7,"y":0.29},{"x":16.0,"y":0.35},{"x":16.3,"y":0.27},{"x":16.6,"y":0.32},{"x":16.9,"y":0.23},{"x":17.2,"y":0.3},{"x":17.5,"y":0.34},{"x":17.8,"y":0.28},{"x":18.1,"y":0.36},{"x":18.4,"y":0.31},{"x":18.7,"y":0.26},{"x":19.0,"y":0.33},{"x":19.3,"y":0.29},{"x":19.6,"y":0.38},{"x":19.9,"y":0.3},{"x":20.5,"y":0.34},{"x":21.1,"y":0.27},{"x":21.7,"y":0.32},{"x":22.3,"y":0.36},{"x":22.9,"y":0.29},{"x":23.5,"y":0.33},{"x":24.1,"y":0.39},{"x":24.7,"y":0.3},{"x":25.3,"y":0.35},{"x":25.9,"y":0.28},{"x":26.5,"y":0.33},{"x":27.1,"y":0.37},{"x":27.7,"y":0.31},{"x":28.3,"y":0.35},{"x":28.9,"y":0.29},{"x":29.5,"y":0.34},{"x":30.1,"y":0.38},{"x":30.7,"y":0.32},{"x":31.3,"y":0.36},{"x":31.9,"y":0.3},{"x":32.5,"y":0.35},{"x":33.1,"y":0.33},{"x":33.7,"y":0.39},{"x":34.3,"y":0.31},{"x":34.9,"y":0.36},{"x":35.5,"y":0.34},{"x":36.1,"y":0.3},{"x":36.7,"y":0.37},{"x":37.3,"y":0.33},{"x":37.9,"y":0.35},{"x":38.5,"y":0.4},{"x":39.1,"y":0.32},{"x":39.7,"y":0.36},{"x":40.5,"y":0.34},{"x":41.5,"y":0.38},{"x":42.5,"y":0.31},{"x":43.5,"y":0.36},{"x":44.5,"y":0.42},{"x":45.5,"y":0.33},{"x":46.5,"y":0.37},{"x":48.0,"y":0.35},{"x":50.0,"y":0.39},{"x":52.0,"y":0.34},{"x":54.0,"y":0.37},{"x":56.0,"y":0.41},{"x":58.0,"y":0.35},{"x":60.5,"y":0.38},{"x":62.5,"y":0.36},{"x":65.0,"y":0.4},{"x":67.0,"y":0.34},{"x":69.5,"y":0.42},{"x":72.0,"y":0.37},{"x":74.5,"y":0.39},{"x":77.0,"y":0.35},{"x":79.5,"y":0.41},{"x":82.0,"y":0.38},{"x":84.5,"y":0.36},{"x":87.0,"y":0.42},{"x":89.5,"y":0.39},{"x":92.0,"y":0.37},{"x":95.0,"y":0.41},{"x":97.5,"y":0.38},{"x":99.5,"y":0.4},
{"x":5.6,"y":0.28},{"x":6.9,"y":0.33},{"x":8.0,"y":0.29},{"x":9.2,"y":0.31},{"x":10.4,"y":0.27},{"x":11.6,"y":0.34},{"x":12.8,"y":0.3},{"x":14.0,"y":0.26},{"x":15.2,"y":0.35},{"x":16.4,"y":0.3},{"x":17.6,"y":0.26},{"x":18.8,"y":0.34},{"x":6.3,"y":0.23},{"x":7.5,"y":0.3},{"x":8.7,"y":0.25},{"x":9.9,"y":0.35},{"x":11.1,"y":0.24},{"x":12.3,"y":0.32},{"x":13.5,"y":0.28},{"x":14.7,"y":0.22},{"x":15.9,"y":0.33},{"x":17.1,"y":0.31},{"x":18.3,"y":0.29},{"x":19.5,"y":0.32},{"x":20.8,"y":0.3},{"x":22.0,"y":0.31},{"x":23.2,"y":0.28},{"x":24.4,"y":0.34},{"x":26.0,"y":0.31},{"x":27.5,"y":0.34},{"x":29.0,"y":0.32},{"x":5.9,"y":0.4},{"x":8.4,"y":0.42},{"x":11.0,"y":0.41},{"x":13.8,"y":0.4},{"x":16.7,"y":0.39},
{"x":5.3,"y":0.26},{"x":5.9,"y":0.33},{"x":6.2,"y":0.2},{"x":6.8,"y":0.29},{"x":7.1,"y":0.36},{"x":7.7,"y":0.25},{"x":8.3,"y":0.31},{"x":8.6,"y":0.22},{"x":9.0,"y":0.34},{"x":9.3,"y":0.27},{"x":9.8,"y":0.3},{"x":10.2,"y":0.36},{"x":10.5,"y":0.25},{"x":11.0,"y":0.31},{"x":11.3,"y":0.21},{"x":11.9,"y":0.28},{"x":12.2,"y":0.35},{"x":12.6,"y":0.26},{"x":13.1,"y":0.32},{"x":13.4,"y":0.29},{"x":13.9,"y":0.23},{"x":14.3,"y":0.34},{"x":14.6,"y":0.3},{"x":15.0,"y":0.27},{"x":15.5,"y":0.37},{"x":15.8,"y":0.31},{"x":16.2,"y":0.25},{"x":16.5,"y":0.33},{"x":17.0,"y":0.29},{"x":17.3,"y":0.36},{"x":17.9,"y":0.32},{"x":18.2,"y":0.27},{"x":18.6,"y":0.35},{"x":19.2,"y":0.3},{"x":19.7,"y":0.26},{"x":20.2,"y":0.33},{"x":20.7,"y":0.36},{"x":21.3,"y":0.3},{"x":21.9,"y":0.34},{"x":22.5,"y":0.28},{"x":23.0,"y":0.37},{"x":23.8,"y":0.32},{"x":24.6,"y":0.29},{"x":25.1,"y":0.36},{"x":25.7,"y":0.33},{"x":26.3,"y":0.38},{"x":26.9,"y":0.3},{"x":27.9,"y":0.35},{"x":28.6,"y":0.37},{"x":29.3,"y":0.31},{"x":30.4,"y":0.35},{"x":31.6,"y":0.33},{"x":32.8,"y":0.37},{"x":34.0,"y":0.34},{"x":35.2,"y":0.38},{"x":36.4,"y":0.32},{"x":37.6,"y":0.36},{"x":38.8,"y":0.34},{"x":40.0,"y":0.39},{"x":41.2,"y":0.35},{"x":43.0,"y":0.33},{"x":44.0,"y":0.37},{"x":46.0,"y":0.35},{"x":47.0,"y":0.4},{"x":49.0,"y":0.36},{"x":51.0,"y":0.38},{"x":55.0,"y":0.35},{"x":59.0,"y":0.39},{"x":63.0,"y":0.37},{"x":68.0,"y":0.41},{"x":75.0,"y":0.38},{"x":85.0,"y":0.4},{"x":91.0,"y":0.38},
{"x":5.4,"y":0.15},{"x":6.6,"y":0.13},{"x":8.1,"y":0.17},{"x":9.7,"y":0.16},{"x":12.0,"y":0.18},{"x":15.0,"y":0.2},{"x":19.0,"y":0.22},{"x":24.0,"y":0.24},{"x":81.5,"y":0.27},{"x":45.0,"y":0.28},{"x":33.0,"y":0.26},{"x":6.0,"y":0.11},
{"x":6.8,"y":0.55},{"x":9.5,"y":0.62},{"x":14.5,"y":0.5},{"x":17.9,"y":0.48},{"x":27.0,"y":0.58},{"x":31.0,"y":0.46},{"x":38.7,"y":0.52},{"x":42.0,"y":0.63},{"x":47.5,"y":0.49},{"x":53.8,"y":0.6},{"x":58.6,"y":0.47},{"x":63.0,"y":0.55},{"x":71.0,"y":0.6},{"x":79.0,"y":0.5},{"x":90.0,"y":0.57},{"x":95.2,"y":0.48},{"x":12.0,"y":0.45},{"x":22.0,"y":0.53}
],
"l4":[
{"c":"m1","x":0,"y":0.955},{"c":"m1","x":10,"y":0.96},{"c":"m1","x":20,"y":0.966},{"c":"m1","x":30,"y":0.971},{"c":"m1","x":40,"y":0.976},{"c":"m1","x":50,"y":0.979},{"c":"m1","x":60,"y":0.983},{"c":"m1","x":70,"y":0.987},{"c":"m1","x":80,"y":0.992},{"c":"m1","x":90,"y":0.997},{"c":"m1","x":100,"y":1.003},
{"c":"m2","x":0,"y":0.235},{"c":"m2","x":1,"y":0.252},{"c":"m2","x":2,"y":0.265},{"c":"m2","x":3,"y":0.276},{"c":"m2","x":4,"y":0.284},{"c":"m2","x":5,"y":0.291},{"c":"m2","x":7,"y":0.301},{"c":"m2","x":10,"y":0.311},{"c":"m2","x":15,"y":0.324},{"c":"m2","x":20,"y":0.334},{"c":"m2","x":30,"y":0.351},{"c":"m2","x":40,"y":0.364},{"c":"m2","x":50,"y":0.374},{"c":"m2","x":60,"y":0.383},{"c":"m2","x":70,"y":0.389},{"c":"m2","x":80,"y":0.395},{"c":"m2","x":90,"y":0.4},{"c":"m2","x":100,"y":0.405},
{"c":"eu","x":5.1,"y":1.42},{"c":"eu","x":5.5,"y":1.35},{"c":"eu","x":6,"y":1.31},{"c":"eu","x":7,"y":1.27},{"c":"eu","x":9,"y":1.23},{"c":"eu","x":12,"y":1.2},{"c":"eu","x":15,"y":1.18},{"c":"eu","x":17,"y":1.165},{"c":"eu","x":20,"y":1.155},{"c":"eu","x":25,"y":1.15},{"c":"eu","x":30,"y":1.148},{"c":"eu","x":40,"y":1.147},{"c":"eu","x":50,"y":1.147},{"c":"eu","x":60,"y":1.149},{"c":"eu","x":70,"y":1.152},{"c":"eu","x":80,"y":1.155},{"c":"eu","x":90,"y":1.158},{"c":"eu","x":100,"y":1.162},
{"c":"el","x":3.2,"y":0.0},{"c":"el","x":3.6,"y":0.2},{"c":"el","x":4.0,"y":0.38},{"c":"el","x":4.5,"y":0.52},{"c":"el","x":5.4,"y":0.62},{"c":"el","x":6.5,"y":0.67},{"c":"el","x":8.2,"y":0.71},{"c":"el","x":10,"y":0.73},{"c":"el","x":15,"y":0.762},{"c":"el","x":20,"y":0.782},{"c":"el","x":30,"y":0.798},{"c":"el","x":40,"y":0.808},{"c":"el","x":50,"y":0.816},{"c":"el","x":60,"y":0.824},{"c":"el","x":70,"y":0.83},{"c":"el","x":80,"y":0.835},{"c":"el","x":90,"y":0.84},{"c":"el","x":100,"y":0.846},
{"c":"nu","x":1.6,"y":0.85},{"c":"nu","x":2.0,"y":0.72},{"c":"nu","x":3.0,"y":0.6},{"c":"nu","x":4.0,"y":0.52},{"c":"nu","x":5,"y":0.48},{"c":"nu","x":7,"y":0.455},{"c":"nu","x":10,"y":0.445},{"c":"nu","x":15,"y":0.442},{"c":"nu","x":20,"y":0.443},{"c":"nu","x":30,"y":0.445},{"c":"nu","x":40,"y":0.45},{"c":"nu","x":50,"y":0.455},{"c":"nu","x":60,"y":0.46},{"c":"nu","x":70,"y":0.465},{"c":"nu","x":80,"y":0.47},{"c":"nu","x":90,"y":0.475},{"c":"nu","x":100,"y":0.48},
{"c":"nl","x":3.8,"y":0.0},{"c":"nl","x":4.5,"y":0.05},{"c":"nl","x":5.5,"y":0.11},{"c":"nl","x":7,"y":0.145},{"c":"nl","x":10,"y":0.18},{"c":"nl","x":15,"y":0.215},{"c":"nl","x":20,"y":0.24},{"c":"nl","x":30,"y":0.265},{"c":"nl","x":40,"y":0.283},{"c":"nl","x":50,"y":0.293},{"c":"nl","x":60,"y":0.3},{"c":"nl","x":70,"y":0.308},{"c":"nl","x":80,"y":0.315},{"c":"nl","x":90,"y":0.32},{"c":"nl","x":100,"y":0.325},
{"c":"t","x":0.6,"y":1.06},{"c":"t","x":1.0,"y":0.93},{"c":"t","x":1.4,"y":0.79},{"c":"t","x":1.8,"y":0.62},{"c":"t","x":2.2,"y":0.45},{"c":"t","x":2.5,"y":0.3},{"c":"t","x":2.7,"y":0.15},{"c":"t","x":2.85,"y":0.0}
],
"l5":[
{"c":"m1","x":0,"y":0.958},{"c":"m1","x":10,"y":0.968},{"c":"m1","x":20,"y":0.978},{"c":"m1","x":30,"y":0.985},{"c":"m1","x":40,"y":0.991},{"c":"m1","x":50,"y":0.996},{"c":"m1","x":60,"y":1.0},{"c":"m1","x":70,"y":1.002},{"c":"m1","x":80,"y":1.003},{"c":"m1","x":90,"y":1.004},{"c":"m1","x":100,"y":1.005},
{"c":"m2","x":0,"y":0.2},{"c":"m2","x":1,"y":0.216},{"c":"m2","x":2,"y":0.229},{"c":"m2","x":3,"y":0.24},{"c":"m2","x":4,"y":0.25},{"c":"m2","x":5,"y":0.257},{"c":"m2","x":7,"y":0.267},{"c":"m2","x":10,"y":0.278},{"c":"m2","x":15,"y":0.295},{"c":"m2","x":20,"y":0.308},{"c":"m2","x":30,"y":0.325},{"c":"m2","x":40,"y":0.34},{"c":"m2","x":50,"y":0.351},{"c":"m2","x":60,"y":0.36},{"c":"m2","x":70,"y":0.37},{"c":"m2","x":80,"y":0.378},{"c":"m2","x":90,"y":0.385},{"c":"m2","x":100,"y":0.391},
{"c":"eu","x":5.1,"y":1.42},{"c":"eu","x":5.5,"y":1.37},{"c":"eu","x":7,"y":1.31},{"c":"eu","x":10,"y":1.25},{"c":"eu","x":13,"y":1.2},{"c":"eu","x":15,"y":1.18},{"c":"eu","x":20,"y":1.145},{"c":"eu","x":30,"y":1.133},{"c":"eu","x":40,"y":1.128},{"c":"eu","x":60,"y":1.122},{"c":"eu","x":80,"y":1.118},{"c":"eu","x":100,"y":1.114},
{"c":"el","x":3.2,"y":0.0},{"c":"el","x":3.7,"y":0.25},{"c":"el","x":4.2,"y":0.45},{"c":"el","x":5,"y":0.6},{"c":"el","x":6.5,"y":0.68},{"c":"el","x":8.5,"y":0.72},{"c":"el","x":13,"y":0.775},{"c":"el","x":20,"y":0.826},{"c":"el","x":33,"y":0.858},{"c":"el","x":49,"y":0.875},{"c":"el","x":67.5,"y":0.884},{"c":"el","x":86,"y":0.892},{"c":"el","x":100,"y":0.893},
{"c":"nu","x":1.4,"y":0.75},{"c":"nu","x":2.5,"y":0.6},{"c":"nu","x":3.5,"y":0.5},{"c":"nu","x":4.9,"y":0.44},{"c":"nu","x":6,"y":0.41},{"c":"nu","x":8,"y":0.395},{"c":"nu","x":12,"y":0.388},{"c":"nu","x":20,"y":0.388},{"c":"nu","x":28,"y":0.395},{"c":"nu","x":33,"y":0.41},{"c":"nu","x":49,"y":0.43},{"c":"nu","x":67.5,"y":0.443},{"c":"nu","x":86,"y":0.45},{"c":"nu","x":100,"y":0.456},
{"c":"nl","x":3.8,"y":0.0},{"c":"nl","x":4.5,"y":0.05},{"c":"nl","x":5.3,"y":0.098},{"c":"nl","x":7,"y":0.14},{"c":"nl","x":9.4,"y":0.175},{"c":"nl","x":15.7,"y":0.226},{"c":"nl","x":24.8,"y":0.264},{"c":"nl","x":33,"y":0.283},{"c":"nl","x":49,"y":0.296},{"c":"nl","x":67.5,"y":0.309},{"c":"nl","x":86,"y":0.322},{"c":"nl","x":100,"y":0.327},
{"c":"t","x":0.6,"y":1.0},{"c":"t","x":0.9,"y":0.88},{"c":"t","x":1.3,"y":0.72},{"c":"t","x":1.7,"y":0.5},{"c":"t","x":2.0,"y":0.3},{"c":"t","x":2.2,"y":0.12},{"c":"t","x":2.3,"y":0.0}
]
},
"hconcat":[
{
"width":367,"height":366,
"title":{"text":"Yield as a Function of Recoil","fontSize":18,"fontWeight":"normal","font":"'Liberation Serif', 'Times New Roman', serif","color":"black","offset":5},
"resolve":{"axis":{"x":"independent","y":"independent"}},
"layer":[
{"data":{"name":"z4"},"mark":{"type":"square","size":11,"color":"#0000ff","opacity":0.8,"clip":true},
"encoding":{
"x":{"field":"x","type":"quantitative","scale":{"domain":[0,100],"nice":false,"zero":false},"axis":{"title":"Recoil [keV]","values":[0,20,40,60,80,100],"tickSize":-5,"labelPadding":9,"labelFlush":false,"domain":false,"grid":false,"labelFont":"'Liberation Serif', 'Times New Roman', serif","labelFontSize":15,"titleFont":"'Liberation Serif', 'Times New Roman', serif","titleFontSize":16,"titleFontWeight":"normal","titlePadding":1,"tickColor":"black","labelColor":"black","titleColor":"black"}},
"y":{"field":"y","type":"quantitative","scale":{"domain":[0,1.4],"nice":false,"zero":false},"axis":{"title":"y (Q/R)]","values":[0,0.2,0.4,0.6,0.8,1,1.2,1.4],"format":"~g","tickSize":-5,"labelPadding":8,"labelFlush":false,"domain":false,"grid":false,"labelFont":"'Liberation Serif', 'Times New Roman', serif","labelFontSize":15,"titleFont":"'Liberation Serif', 'Times New Roman', serif","titleFontSize":17,"titleFontWeight":"normal","titlePadding":3,"tickColor":"black","labelColor":"black","titleColor":"black"}}}},
{"data":{"name":"l4"},"transform":[{"filter":"datum.c=='m1'||datum.c=='m2'"}],"mark":{"type":"line","color":"#1f9a1f","strokeWidth":1.3,"clip":true,"interpolate":"monotone"},
"encoding":{
"x":{"field":"x","type":"quantitative","axis":{"orient":"top","labels":false,"title":null,"values":[0,20,40,60,80,100],"tickSize":-5,"domain":false,"grid":false,"tickColor":"black"}},
"y":{"field":"y","type":"quantitative","axis":{"orient":"right","labels":false,"title":null,"values":[0,0.2,0.4,0.6,0.8,1,1.2,1.4],"tickSize":-5,"domain":false,"grid":false,"tickColor":"black"}},
"detail":{"field":"c"}}},
{"data":{"name":"l4"},"transform":[{"filter":"datum.c!='m1'&&datum.c!='m2'"}],"mark":{"type":"line","color":"black","strokeWidth":1,"strokeDash":[7,5],"clip":true,"interpolate":"monotone"},
"encoding":{"x":{"field":"x","type":"quantitative","axis":null},"y":{"field":"y","type":"quantitative","axis":null},"detail":{"field":"c"}}},
{"data":{"values":[{}]},"mark":{"type":"rule","color":"black","strokeWidth":1},"encoding":{"x":{"datum":5,"type":"quantitative","axis":null}}},
{"data":{"values":[{}]},"mark":{"type":"text","text":"Z4","font":"'Liberation Sans', Arial, sans-serif","fontWeight":"bold","fontSize":17,"color":"black"},"encoding":{"x":{"datum":92,"type":"quantitative","axis":null},"y":{"datum":0.095,"type":"quantitative","axis":null}}}
]
},
{
"width":367,"height":366,
"title":{"text":"Yield as a Function of Recoil","fontSize":18,"fontWeight":"normal","font":"'Liberation Serif', 'Times New Roman', serif","color":"black","offset":5},
"resolve":{"axis":{"x":"independent","y":"independent"}},
"layer":[
{"data":{"name":"z5"},"mark":{"type":"square","size":11,"color":"#0000ff","opacity":0.8,"clip":true},
"encoding":{
"x":{"field":"x","type":"quantitative","scale":{"domain":[0,100],"nice":false,"zero":false},"axis":{"title":"Recoil [keV]","values":[0,20,40,60,80,100],"tickSize":-5,"labelPadding":9,"labelFlush":false,"domain":false,"grid":false,"labelFont":"'Liberation Serif', 'Times New Roman', serif","labelFontSize":15,"titleFont":"'Liberation Serif', 'Times New Roman', serif","titleFontSize":16,"titleFontWeight":"normal","titlePadding":1,"tickColor":"black","labelColor":"black","titleColor":"black"}},
"y":{"field":"y","type":"quantitative","scale":{"domain":[0,1.4],"nice":false,"zero":false},"axis":{"title":"y (Q/R)]","values":[0,0.2,0.4,0.6,0.8,1,1.2,1.4],"format":"~g","tickSize":-5,"labelPadding":8,"labelFlush":false,"domain":false,"grid":false,"labelFont":"'Liberation Serif', 'Times New Roman', serif","labelFontSize":15,"titleFont":"'Liberation Serif', 'Times New Roman', serif","titleFontSize":17,"titleFontWeight":"normal","titlePadding":3,"tickColor":"black","labelColor":"black","titleColor":"black"}}}},
{"data":{"name":"l5"},"transform":[{"filter":"datum.c=='m1'||datum.c=='m2'"}],"mark":{"type":"line","color":"#1f9a1f","strokeWidth":1.3,"clip":true,"interpolate":"monotone"},
"encoding":{
"x":{"field":"x","type":"quantitative","axis":{"orient":"top","labels":false,"title":null,"values":[0,20,40,60,80,100],"tickSize":-5,"domain":false,"grid":false,"tickColor":"black"}},
"y":{"field":"y","type":"quantitative","axis":{"orient":"right","labels":false,"title":null,"values":[0,0.2,0.4,0.6,0.8,1,1.2,1.4],"tickSize":-5,"domain":false,"grid":false,"tickColor":"black"}},
"detail":{"field":"c"}}},
{"data":{"name":"l5"},"transform":[{"filter":"datum.c!='m1'&&datum.c!='m2'"}],"mark":{"type":"line","color":"black","strokeWidth":1,"strokeDash":[7,5],"clip":true,"interpolate":"monotone"},
"encoding":{"x":{"field":"x","type":"quantitative","axis":null},"y":{"field":"y","type":"quantitative","axis":null},"detail":{"field":"c"}}},
{"data":{"values":[{}]},"mark":{"type":"rule","color":"black","strokeWidth":1},"encoding":{"x":{"datum":5,"type":"quantitative","axis":null}}},
{"data":{"values":[{}]},"mark":{"type":"text","text":"Z5","font":"'Liberation Sans', Arial, sans-serif","fontWeight":"bold","fontSize":17,"color":"black"},"encoding":{"x":{"datum":92.5,"type":"quantitative","axis":null},"y":{"datum":0.095,"type":"quantitative","axis":null}}}
]
}
]
}
